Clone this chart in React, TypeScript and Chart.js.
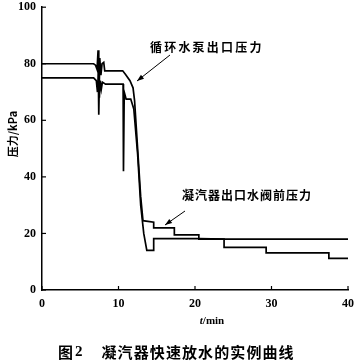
import React, { useEffect, useRef } from "react";
import { Chart, registerables } from "chart.js";

Chart.register(...registerables);

// Circulating-water pump outlet pressure (starts at 80 kPa)
const timeA = [0, 6.75, 7.0, 7.2, 7.33, 7.42, 7.55, 7.7, 7.85, 8.07, 8.2, 10.55, 10.9, 11.5, 11.9, 12.1, 12.5, 12.9, 13.2, 14.6, 14.6, 17.3, 17.3, 20.5, 20.5, 40];
const pressureA = [80, 80, 79.5, 78, 84.8, 62, 82, 76, 80, 80.5, 77.5, 77.5, 76.3, 74, 71.5, 67, 50, 33, 24.5, 24, 22, 22, 19.5, 19.5, 18, 18];

// Pressure before condenser outlet water valve (starts at 75 kPa)
const timeB = [0, 6.75, 7.1, 7.25, 7.4, 7.5, 7.6, 7.75, 7.9, 8.3, 10.6, 10.65, 10.75, 11.0, 11.6, 12.0, 12.5, 12.9, 13.3, 13.7, 14.6, 14.6, 20.5, 23.8, 23.8, 29.3, 29.3, 37.5, 37.5, 40];
const pressureB = [75, 75, 74, 70, 77, 68, 74, 71, 73.5, 72.8, 72.8, 42, 70, 67.5, 67.5, 64, 48, 30, 20, 14, 14, 18.2, 18.2, 18, 15.1, 15.1, 13.1, 13.1, 11.2, 11.2];

const xTicks = [0, 10, 20, 30, 40];
const yTicks = [0, 20, 40, 60, 80, 100];

const labelA = "循环水泵出口压力";
const labelB = "凝汽器出口水阀前压力";
const yTitle = "压力/kPa";
const caption = "凝汽器快速放水的实例曲线";

const cjk = '"Noto Sans CJK SC", "Noto Sans", sans-serif';
const serif = '"Liberation Serif", "DejaVu Serif", serif';

function drawSpaced(ctx: CanvasRenderingContext2D, text: string, x: number, y: number, pitch: number) {
  const chars = Array.from(text);
  chars.forEach((c, i) => ctx.fillText(c, x + i * pitch, y));
}

function arrow(ctx: CanvasRenderingContext2D, x1: number, y1: number, x2: number, y2: number) {
  ctx.save();
  ctx.strokeStyle = "#000";
  ctx.fillStyle = "#000";
  ctx.lineWidth = 1;
  ctx.beginPath();
  ctx.moveTo(x1, y1);
  ctx.lineTo(x2, y2);
  ctx.stroke();
  const ang = Math.atan2(y2 - y1, x2 - x1);
  const L = 7, W = 2.5;
  ctx.beginPath();
  ctx.moveTo(x2, y2);
  ctx.lineTo(x2 - L * Math.cos(ang) + W * Math.sin(ang), y2 - L * Math.sin(ang) - W * Math.cos(ang));
  ctx.lineTo(x2 - L * Math.cos(ang) - W * Math.sin(ang), y2 - L * Math.sin(ang) + W * Math.cos(ang));
  ctx.closePath();
  ctx.fill();
  ctx.restore();
}

const decorPlugin = {
  id: "decor",
  afterDraw(chart: any) {
    const ctx: CanvasRenderingContext2D = chart.ctx;
    const xs = chart.scales.x;
    const ys = chart.scales.y;
    const area = chart.chartArea;
    ctx.save();
    ctx.strokeStyle = "#000";
    ctx.lineWidth = 1.2;
    // inward tick marks
    xTicks.forEach((v) => {
      const px = xs.getPixelForValue(v);
      ctx.beginPath();
      ctx.moveTo(px, area.bottom);
      ctx.lineTo(px, area.bottom - 4);
      ctx.stroke();
    });
    yTicks.forEach((v) => {
      const py = ys.getPixelForValue(v);
      ctx.beginPath();
      ctx.moveTo(area.left, py);
      ctx.lineTo(area.left + 4, py);
      ctx.stroke();
    });

    ctx.fillStyle = "#000";
    // y title
    ctx.save();
    ctx.translate(13, 134);
    ctx.rotate(-Math.PI / 2);
    ctx.textAlign = "center";
    ctx.textBaseline = "middle";
    ctx.font = `bold 11px ${cjk}`;
    ctx.fillText(yTitle, 0, 0);
    ctx.restore();

    // x title t/min
    ctx.textBaseline = "middle";
    ctx.textAlign = "left";
    ctx.font = `italic bold 11px ${serif}`;
    const tW = ctx.measureText("t").width;
    ctx.font = `bold 11px ${serif}`;
    const rW = ctx.measureText("/min").width;
    const sx = 212 - (tW + rW) / 2;
    ctx.font = `italic bold 11px ${serif}`;
    ctx.fillText("t", sx, 321);
    ctx.font = `bold 11px ${serif}`;
    ctx.fillText("/min", sx + tW, 321);

    // annotations
    ctx.font = `bold 12px ${cjk}`;
    ctx.textAlign = "left";
    drawSpaced(ctx, labelA, 150, 47, 14.2);
    drawSpaced(ctx, labelB, 182, 195, 13);
    arrow(ctx, 170, 55, 137, 81);
    arrow(ctx, 185, 211, 165, 225);

    // caption
    ctx.font = `bold 15px ${cjk}`;
    ctx.fillText("图", 58, 352);
    ctx.font = `bold 15px ${serif}`;
    ctx.fillText("2", 75, 352);
    ctx.font = `bold 15px ${cjk}`;
    drawSpaced(ctx, caption, 101.5, 352, 16.1);
    ctx.restore();
  },
};

export default function App() {
  const ref = useRef<HTMLCanvasElement>(null);
  useEffect(() => {
    if (!ref.current) return;
    const dsA = timeA.map((t, i) => ({ x: t, y: pressureA[i] }));
    const dsB = timeB.map((t, i) => ({ x: t, y: pressureB[i] }));
    const chart = new Chart(ref.current, {
      type: "line",
      data: {
        datasets: [
          { label: labelA, data: dsA, borderColor: "#000", borderWidth: 1.7, pointRadius: 0, tension: 0, fill: false },
          { label: labelB, data: dsB, borderColor: "#000", borderWidth: 1.7, pointRadius: 0, tension: 0, fill: false },
        ],
      },
      options: {
        responsive: false,
        animation: false,
        devicePixelRatio: 1,
        layout: { padding: 0 },
        plugins: { legend: { display: false }, tooltip: { enabled: false }, title: { display: false } },
        scales: {
          x: {
            type: "linear",
            min: 0,
            max: 40,
            afterFit: (s: any) => { s.height = 73; },
            afterBuildTicks: (s: any) => { s.ticks = xTicks.map((v) => ({ value: v })); },
            ticks: { color: "#000", padding: 0, maxRotation: 0, font: { family: serif, size: 12, weight: "bold" } },
            grid: { display: true, drawOnChartArea: false, drawTicks: true, tickLength: 7, tickColor: "rgba(0,0,0,0)" },
            border: { display: true, color: "#000", width: 1.5 },
          },
          y: {
            type: "linear",
            min: 0,
            max: 100,
            afterFit: (s: any) => { s.width = 42; },
            afterBuildTicks: (s: any) => { s.ticks = yTicks.map((v) => ({ value: v })); },
            ticks: { color: "#000", padding: 0, font: { family: serif, size: 12, weight: "bold" } },
            grid: { display: true, drawOnChartArea: false, drawTicks: true, tickLength: 6, tickColor: "rgba(0,0,0,0)" },
            border: { display: true, color: "#000", width: 1.5 },
          },
        },
      },
      plugins: [decorPlugin],
    });
    return () => chart.destroy();
  }, []);
  return (
    <div style={{ position: "fixed", left: 0, top: 0, width: 354, height: 363, background: "#fff" }}>
      <canvas ref={ref} width={354} height={363} style={{ width: 354, height: 363, display: "block" }} />
    </div>
  );
}
